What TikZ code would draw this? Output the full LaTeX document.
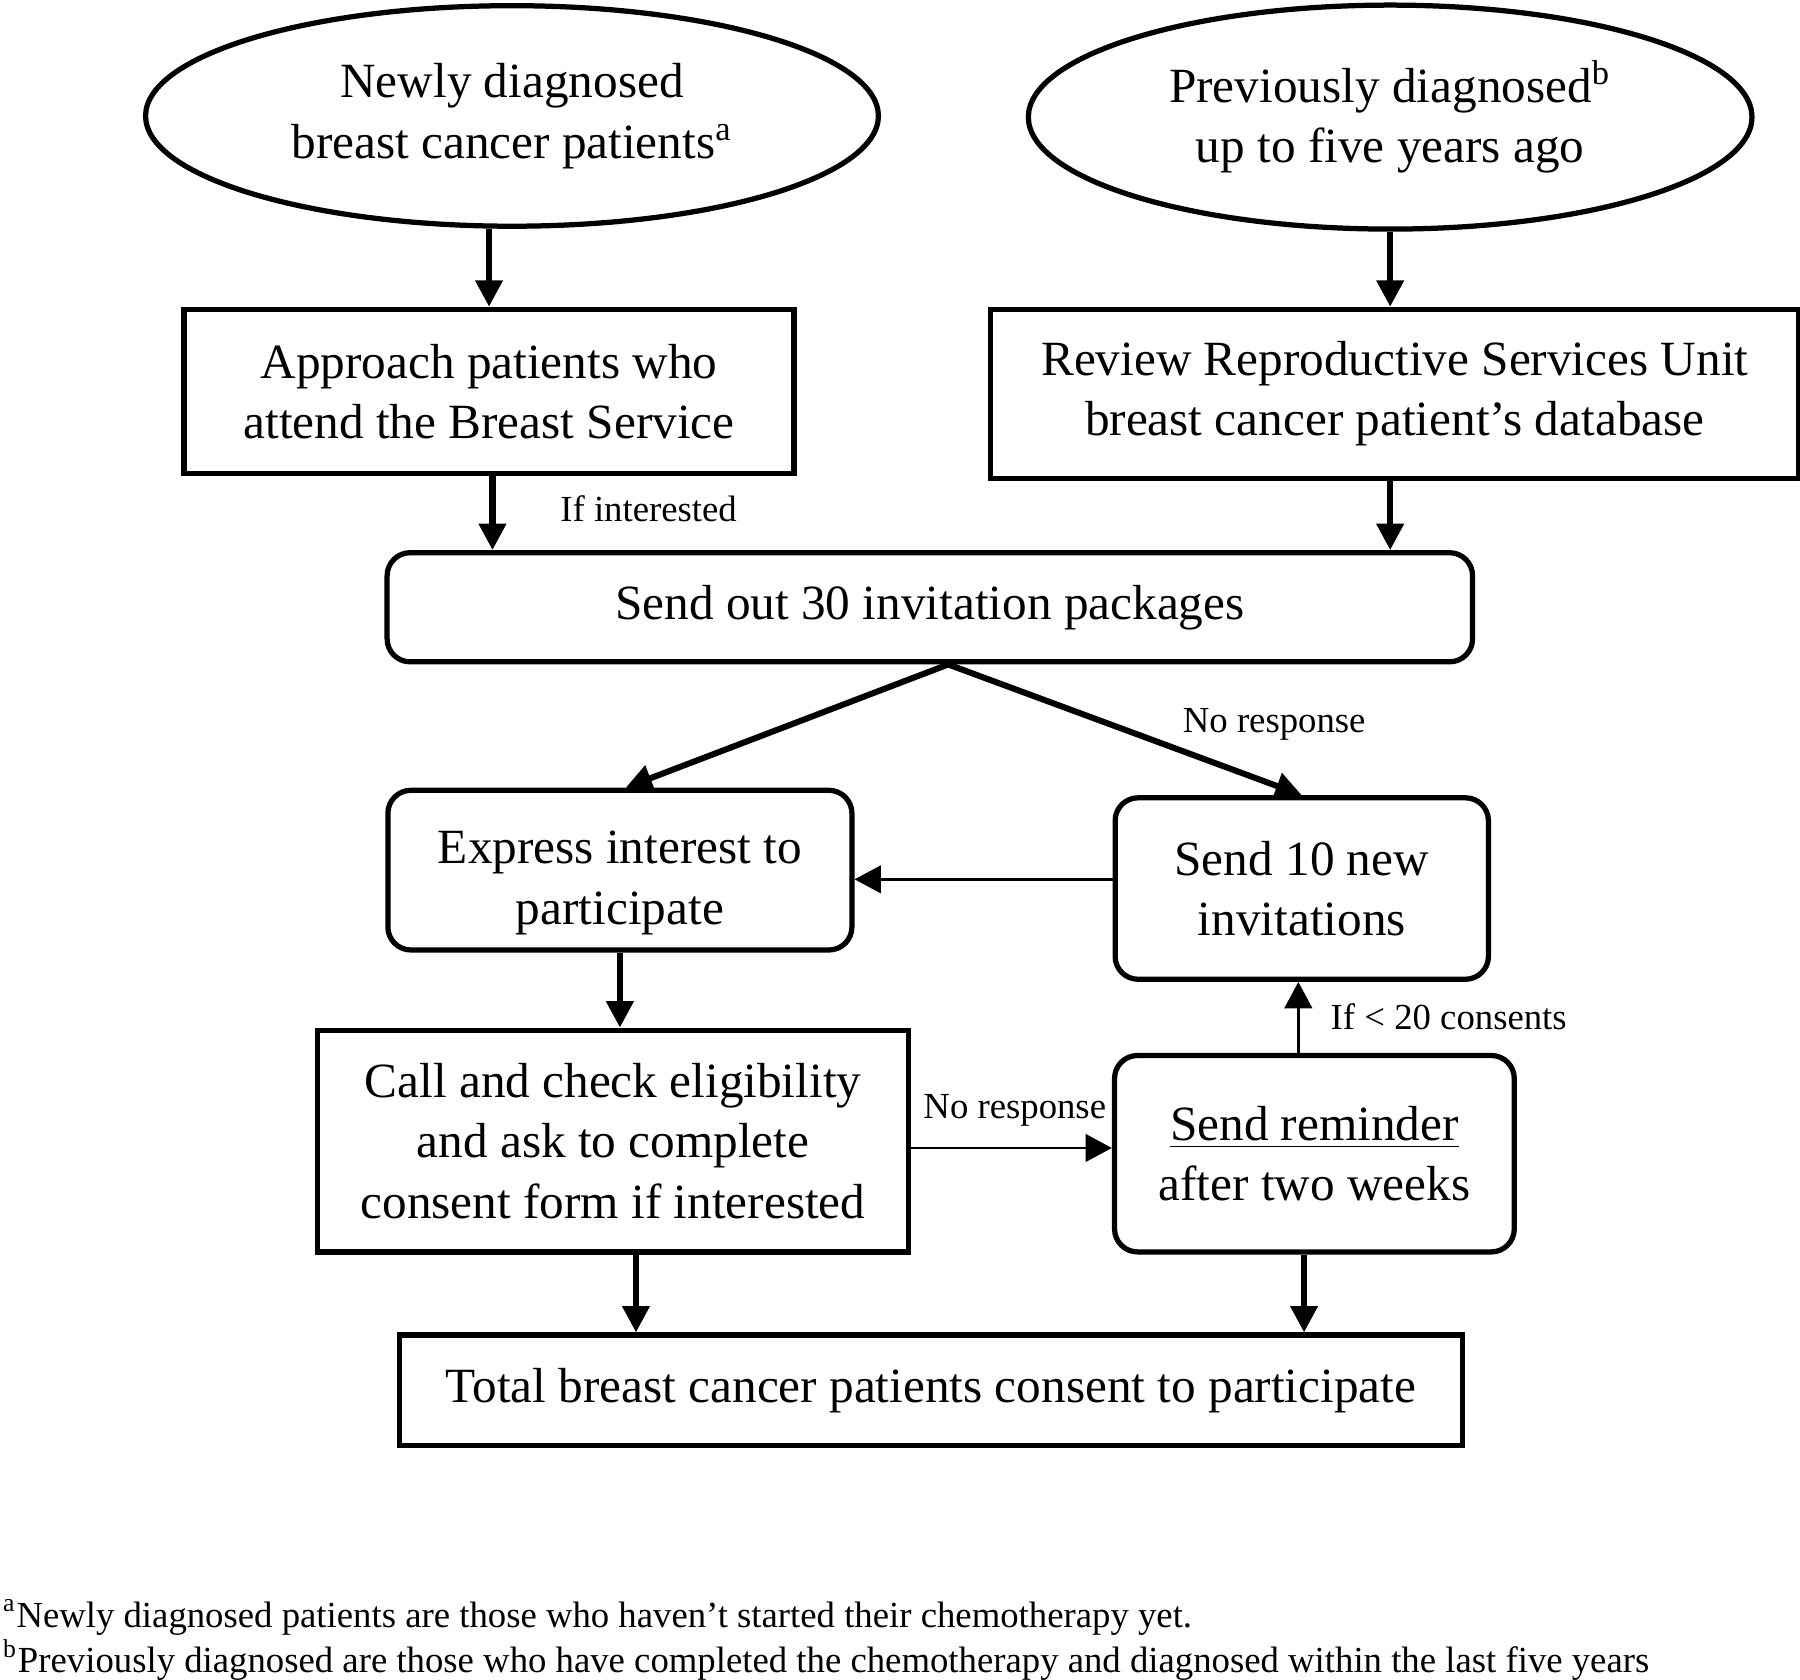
\documentclass[tikz,border=0pt]{standalone}
\usepackage{fontspec}
\setmainfont{Liberation Serif}
\usepackage{tikz}
\usetikzlibrary{shapes.geometric,arrows.meta,calc}
\newcommand{\boxline}{1.3pt}
\newcommand{\fatline}{1.5pt}
\newcommand{\thinline}{0.7pt}
\newcommand{\bigtext}{\fontsize{12.2}{15}\selectfont}
\newcommand{\smalltext}{\fontsize{9.1}{11}\selectfont}

\begin{document}
\begin{tikzpicture}[x=0.01cm, y=-0.01cm,
  blob/.style={draw, line width=\boxline, ellipse, inner sep=0pt, font=\bigtext, align=center},
  sqbox/.style={draw, line width=\boxline, inner sep=0pt, font=\bigtext, align=center},
  rdbox/.style={sqbox, rounded corners=2mm},
  label/.style={font=\smalltext, inner sep=0pt},
  fatarrow/.style={line width=\fatline, -{Triangle[length=2.3mm, width=2.3mm]}},
  slimarrow/.style={line width=\thinline, -{Triangle[length=2.3mm, width=2.4mm]}}]
\useasboundingbox (0,0) rectangle (1568,1463);
%sources
\node[blob] (newly) at (446, 101) [minimum width=6.38cm, minimum height=1.92cm] {Newly diagnosed\\breast cancer patients\textsuperscript{a}};
\node[blob] (prev) at (1211, 102) [minimum width=6.3cm, minimum height=1.95cm] {Previously diagnosed\textsuperscript{b}\\up to five years ago};
\node[sqbox] (approach) at (426, 341) [minimum width=5.31cm, minimum height=1.43cm] {Approach patients who\\attend the Breast Service};
\node[sqbox] (review) at (1215, 343) [minimum width=7.04cm, minimum height=1.47cm] {Review Reproductive Services Unit\\breast cancer patient’s database};
\node[rdbox] (send) at (810, 529) [minimum width=9.45cm, minimum height=0.95cm] {Send out 30 invitation packages};
%middle
\node[rdbox] (express) at (540, 758) [minimum width=4.04cm, minimum height=1.39cm] {\rule{0pt}{14.5pt}Express interest to\\participate};
\node[rdbox] (resend) at (1134, 774) [minimum width=3.25cm, minimum height=1.58cm] {Send 10 new\\invitations};
\node[sqbox] (call) at (534, 994) [minimum width=5.15cm, minimum height=1.93cm] {Call and check eligibility\\and ask to complete\\consent form if interested};
\node[rdbox] (remind) at (1145, 1005) [minimum width=3.48cm, minimum height=1.71cm] {\underline{Send reminder}\\after two weeks};
\node[sqbox] (total) at (811, 1211) [minimum width=9.26cm, minimum height=0.96cm] {Total breast cancer patients consent to participate};
\coordinate (split) at ([xshift=1.6mm]send.south);
%labels
\node[label] (ifint) at (565, 443) {If interested};
\node[label] (nore1) at (1110, 631) {No response};
\node[label] (nore2) at (884, 967) {No response};
\node[label] (iflow) at (1262, 886) {If < 20 consents};
%connectors
\draw[fatarrow] (newly.south -| approach.north) -- (approach.north);
\draw[fatarrow] (prev.south) -- (prev.south |- review.north);
\draw[fatarrow] ([xshift=0.3mm]approach.south) -- ([xshift=0.3mm]approach.south |- send.north);
\draw[fatarrow] ([xshift=-0.4mm]review.south) -- ([xshift=-0.4mm]review.south |- send.north);
\draw[fatarrow] (split) -- ([xshift=0.5mm]express.north);
\draw[fatarrow] (split) -- (resend.north);
\draw[slimarrow] ([yshift=0.8mm]resend.west) -- ([yshift=0.8mm]resend.west -| express.east);
\draw[fatarrow] (express.south) -- (express.south |- call.north);
\draw[slimarrow] ([yshift=-0.6mm]call.east) -- ([yshift=-0.6mm]call.east -| remind.west);
\draw[slimarrow] ([xshift=-0.3mm]resend.south |- remind.north) -- ([xshift=-0.3mm]resend.south);
\draw[fatarrow] ([xshift=2mm]call.south) -- ([xshift=2mm]call.south |- total.north);
\draw[fatarrow] ([xshift=-0.9mm]remind.south) -- ([xshift=-0.9mm]remind.south |- total.north);
%footnotes
\node[label, anchor=west] (fna) at (2, 1409) {\textsuperscript{a}Newly diagnosed patients are those who haven’t started their chemotherapy yet.};
\node[label, anchor=west] (fnb) at (2, 1446) {\textsuperscript{b}Previously diagnosed are those who have completed the chemotherapy and diagnosed within the last five years};
\end{tikzpicture}
\end{document}
